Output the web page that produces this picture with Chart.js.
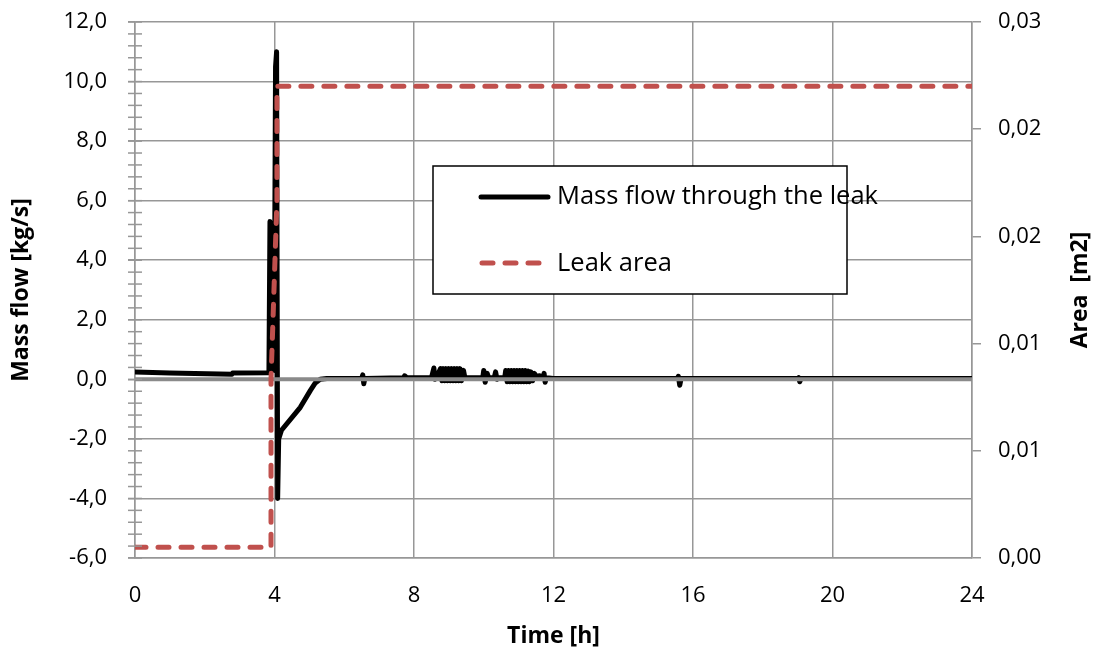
<!DOCTYPE html>
<html>
<head>
<meta charset="utf-8">
<script src="https://cdn.jsdelivr.net/npm/chart.js@4.4.1/dist/chart.umd.min.js"></script>
<style>
  html, body { margin: 0; padding: 0; background: #fff; }
  #wrap { width: 1095px; height: 655px; }
</style>
</head>
<body>
<div id="wrap"><canvas id="chartFuga" width="1095" height="655"></canvas></div>
<script>
// datos
const horas = [
  0, 1.0, 2.78, 2.80, 3.84, 3.87, 3.91, 3.95, 3.99, 4.03, 4.06, 4.09, 4.12, 4.20, 4.74, 5.03, 5.17, 5.31, 5.50,
  6.50, 6.53, 6.56, 6.59, 7.70, 7.73, 7.80, 8.50, 8.57, 8.60, 8.64,
  8.76, 8.80, 8.84, 8.88, 8.92, 8.96, 9.00, 9.04, 9.08, 9.12, 9.16, 9.20, 9.24, 9.28, 9.32, 9.36, 9.42, 9.46,
  9.97, 10.00, 10.04, 10.10, 10.14, 10.30, 10.34, 10.38, 10.42, 10.60,
  10.63, 10.67, 10.71, 10.75, 10.79, 10.83, 10.87, 10.91, 10.95, 10.99, 11.03, 11.07, 11.11, 11.15,
  11.19, 11.23, 11.27, 11.31, 11.35, 11.40, 11.45, 11.50, 11.60, 11.70, 11.73, 11.76, 11.80,
  12.0, 15.55, 15.58, 15.62, 15.66, 19.0, 19.03, 19.06, 19.1, 24
]
const caudal = [
  0.25, 0.21, 0.17, 0.21, 0.22, 5.3, 0.3, 5.2, 0.3, 10.5, 11.0, -4.0, -2.0, -1.71, -0.94, -0.37, -0.12, 0.0, 0.03,
  0.03, 0.15, -0.15, 0.03, 0.05, 0.12, 0.05, 0.05, 0.38, 0.0, 0.05,
  0.36, -0.05, 0.36, -0.05, 0.36, -0.05, 0.36, -0.05, 0.36, -0.05, 0.36, -0.05, 0.36, -0.05, 0.36, -0.05, 0.3, 0.05,
  0.05, 0.3, -0.1, 0.2, 0.05, 0.05, 0.25, 0.0, 0.05, 0.05,
  0.3, -0.08, 0.3, -0.08, 0.3, -0.08, 0.3, -0.08, 0.3, -0.08, 0.3, -0.08, 0.3, -0.08,
  0.3, -0.08, 0.28, -0.08, 0.25, -0.05, 0.2, 0.1, 0.12, 0.05, 0.2, -0.1, 0.05,
  0.03, 0.03, 0.1, -0.2, 0.03, 0.03, 0.06, -0.08, 0.03, 0.03
]
const horasArea = [0, 3.9, 3.9, 4.07, 4.07, 24]
const areaFuga = [0.0006, 0.0006, 0.0100, 0.0200, 0.0264, 0.0264]

const ticksHoras = [0, 4, 8, 12, 16, 20, 24]
const ticksCaudal = [-6, -4, -2, 0, 2, 4, 6, 8, 10, 12]
const ticksArea = [0, 0.006, 0.012, 0.018, 0.024, 0.03]

const nombres = ['Mass flow through the leak', 'Leak area']

const gris = '#979797'
const rojo = '#c0504d'
const fuente = '"Open Sans", Lato, sans-serif'

Chart.defaults.font.family = fuente
Chart.defaults.font.size = 22
Chart.defaults.color = '#000'

const canvas = document.getElementById('chartFuga')
const context = canvas.getContext('2d')

const aTicks = lista => scale => { scale.ticks = lista.map(v => ({ value: v })) }

const extras = {
    id : 'extras',
    afterDatasetDraw(chart, args) {
        // linea del eje horizontal en 0, encima del caudal
        if (args.index !== 0) return
        const { ctx, chartArea, scales } = chart
        const y0 = scales.y.getPixelForValue(0)
        ctx.save()
        ctx.strokeStyle = '#8a8a8a'
        ctx.lineWidth = 4
        ctx.beginPath()
        ctx.moveTo(chartArea.left, y0)
        ctx.lineTo(chartArea.right, y0)
        ctx.stroke()
        ctx.restore()
    },
    afterDraw(chart) {
        const { ctx, chartArea, scales } = chart
        ctx.save()

        // marcas menores del eje izquierdo
        ctx.strokeStyle = gris
        ctx.lineWidth = 1.5
        for (let v = scales.y.min; v <= scales.y.max + 0.001; v += 0.4) {
            const y = scales.y.getPixelForValue(v)
            ctx.beginPath()
            ctx.moveTo(chartArea.left - 7, y)
            ctx.lineTo(chartArea.left + 7, y)
            ctx.stroke()
        }

        // titulo eje derecho
        ctx.fillStyle = '#000'
        ctx.font = 'bold 23px ' + fuente
        ctx.textAlign = 'center'
        ctx.textBaseline = 'middle'
        ctx.translate(1080, (chartArea.top + chartArea.bottom) / 2)
        ctx.rotate(-Math.PI / 2)
        ctx.fillText('Area  [m2]', 0, 0)
        ctx.setTransform(1, 0, 0, 1, 0, 0)

        // leyenda
        const lx = 433, ly = 166, lw = 414, lh = 128
        ctx.fillStyle = '#fff'
        ctx.fillRect(lx, ly, lw, lh)
        ctx.strokeStyle = '#000'
        ctx.lineWidth = 1.5
        ctx.strokeRect(lx, ly, lw, lh)

        ctx.lineCap = 'round'
        ctx.lineWidth = 5
        ctx.strokeStyle = '#000'
        ctx.beginPath()
        ctx.moveTo(481, 197)
        ctx.lineTo(548, 197)
        ctx.stroke()

        ctx.strokeStyle = rojo
        ctx.setLineDash([11, 12])
        ctx.beginPath()
        ctx.moveTo(482, 263)
        ctx.lineTo(548, 263)
        ctx.stroke()
        ctx.setLineDash([])

        ctx.fillStyle = '#000'
        ctx.font = '25.5px ' + fuente
        ctx.textAlign = 'left'
        ctx.textBaseline = 'middle'
        ctx.fillText(nombres[0], 557, 197)
        ctx.fillText(nombres[1], 557, 264)

        ctx.restore()
    }
}

const sinRelleno = s => { s.paddingTop = 0; s.paddingBottom = 0 }

const chartFuga = new Chart(context, {
    type : 'line',
    data : {
        datasets : [
            {
                label : nombres[0],
                data : horas.map((h, i) => ({ x : h, y : caudal[i] })),
                borderColor : '#000',
                borderWidth : 5,
                borderJoinStyle : 'round',
                borderCapStyle : 'round',
                pointRadius : 0,
                yAxisID : 'y',
                order : 1
            },
            {
                label : nombres[1],
                data : horasArea.map((h, i) => ({ x : h, y : areaFuga[i] })),
                borderColor : rojo,
                borderWidth : 5,
                borderDash : [11, 12],
                borderCapStyle : 'round',
                borderJoinStyle : 'round',
                pointRadius : 0,
                yAxisID : 'y1',
                order : 0
            }
        ]
    },
    options : {
        responsive : false,
        animation : false,
        layout : { padding : { top : 22, left : 0, right : 0, bottom : 0 } },
        plugins : {
            legend : { display : false },
            tooltip : { enabled : false }
        },
        scales : {
            x : {
                type : 'linear',
                min : 0,
                max : 24,
                afterBuildTicks : aTicks(ticksHoras),
                grid : { color : gris, lineWidth : 1.5, drawTicks : false },
                border : { color : gris, width : 1.5 },
                ticks : { padding : 25, maxRotation : 0 },
                title : {
                    display : true,
                    text : 'Time [h]',
                    font : { weight : 'bold', size : 23 },
                    padding : { top : 0, bottom : 5 }
                },
                afterFit : s => { s.height = 97 }
            },
            y : {
                position : 'left',
                min : -6,
                max : 12,
                afterBuildTicks : aTicks(ticksCaudal),
                grid : { color : gris, lineWidth : 1.5, tickLength : 7 },
                border : { color : gris, width : 1.5 },
                ticks : { padding : 21, callback : v => v.toFixed(1).replace('.', ',') },
                title : {
                    display : true,
                    text : 'Mass flow [kg/s]',
                    font : { weight : 'bold', size : 23 },
                    padding : { top : 8, bottom : 0 }
                },
                afterFit : s => { s.width = 135; sinRelleno(s) }
            },
            y1 : {
                position : 'right',
                min : 0,
                max : 0.03,
                afterBuildTicks : aTicks(ticksArea),
                grid : { drawOnChartArea : false, color : gris, lineWidth : 1.5, tickLength : 9 },
                border : { color : gris, width : 1.5 },
                ticks : { padding : 17, callback : v => v.toFixed(2).replace('.', ',') },
                afterFit : s => { s.width = 123; sinRelleno(s) }
            }
        }
    },
    plugins : [extras]
})
</script>
</body>
</html>
